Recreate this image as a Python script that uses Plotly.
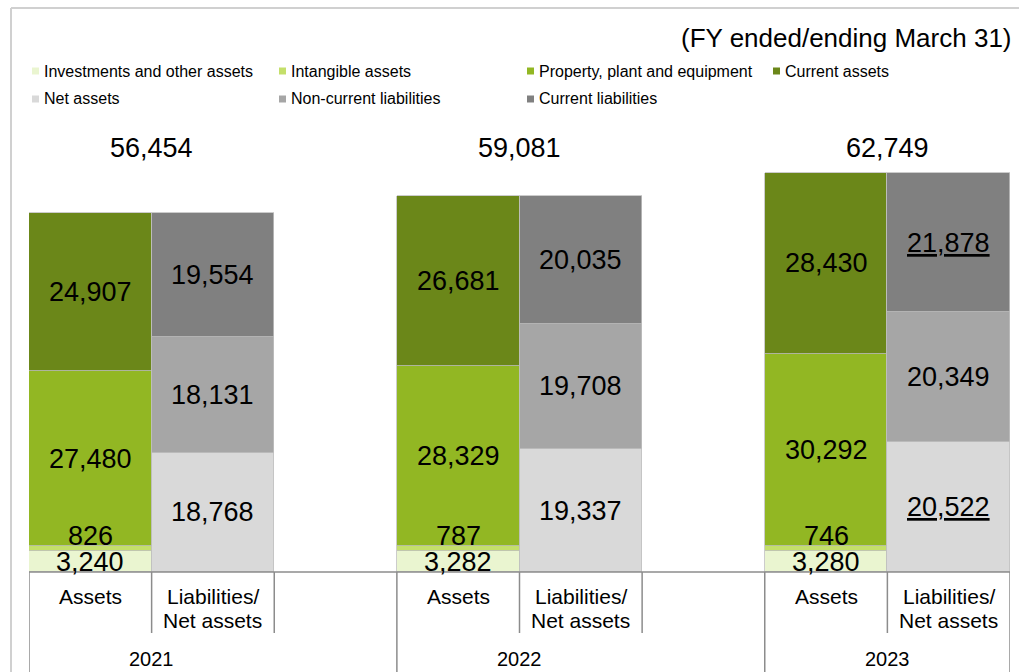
import plotly.graph_objects as go

# ---- data (JPY millions, FY ended/ending March 31) ----
years = ["2021", "2022", "2023"]
investments = [3240, 3282, 3280]
intangible = [826, 787, 746]
ppe = [27480, 28329, 30292]
current_assets = [24907, 26681, 28430]
net_assets = [18768, 19337, 20522]
noncurrent_liab = [18131, 19708, 20349]
current_liab = [19554, 20035, 21878]
totals = [56454, 59081, 62749]
underlined = {("Net assets", "2023"), ("Current liabilities", "2023")}

slot_labels = [["Assets"], ["Liabilities/", "Net assets"]]

asset_series = [
    ("Investments and other assets", investments, "#EAF5D0"),
    ("Intangible assets", intangible, "#C4DF6A"),
    ("Property, plant and equipment", ppe, "#92B723"),
    ("Current assets", current_assets, "#6B8719"),
]
liab_series = [
    ("Net assets", net_assets, "#D9D9D9"),
    ("Non-current liabilities", noncurrent_liab, "#A6A6A6"),
    ("Current liabilities", current_liab, "#808080"),
]

FONT = "Liberation Sans, Arial, sans-serif"
W, H = 1019, 672
L, R, T, B = 29, 9, 100, 100
PW, PH = W - L - R, H - T - B


def px(x):
    return (x - L) / PW


def py(y):
    return (H - B - y) / PH


x_assets = [3 * i + 0.5 for i in range(len(years))]
x_liab = [3 * i + 1.5 for i in range(len(years))]

fig = go.Figure()
annotations = []


def add_stack(series, xs):
    base = [0] * len(years)
    for name, vals, color in series:
        fig.add_trace(go.Bar(
            x=xs, y=vals, width=1, name=name,
            marker=dict(color=color, line=dict(color="#BFBFBF", width=0.8)),
            showlegend=False,
        ))
        for i, v in enumerate(vals):
            txt = f"{v:,}"
            if (name, years[i]) in underlined:
                txt = f"<u>{txt}</u>"
            shift = 13 if name == "Intangible assets" else 0
            annotations.append(dict(
                x=xs[i], y=base[i] + v / 2, yshift=shift, yanchor="middle",
                text=txt, showarrow=False,
                font=dict(size=27, color="black", family=FONT),
            ))
            base[i] += v


add_stack(asset_series, x_assets)
add_stack(liab_series, x_liab)

# totals above each pair
for i, t in enumerate(totals):
    annotations.append(dict(
        x=3 * i + 1, y=py(148), yref="paper", yanchor="middle",
        text=f"{t:,}", showarrow=False,
        font=dict(size=27, color="black", family=FONT),
    ))

# category table labels
for i, yr in enumerate(years):
    for j, lines in enumerate(slot_labels):
        for k, line in enumerate(lines):
            annotations.append(dict(
                x=3 * i + 0.5 + j, y=py(596 + 24 * k), yref="paper", yanchor="middle",
                text=line, showarrow=False,
                font=dict(size=21, color="black", family=FONT),
            ))
    annotations.append(dict(
        x=3 * i + 1, y=py(659), yref="paper", yanchor="middle",
        text=yr, showarrow=False,
        font=dict(size=20, color="black", family=FONT),
    ))

# heading
annotations.append(dict(
    x=px(1014), y=py(38), xref="paper", yref="paper",
    xanchor="right", yanchor="middle",
    text="(FY ended/ending March 31)", showarrow=False,
    font=dict(size=26, color="black", family=FONT),
))

# custom legend
legend_pos = [(32, 71), (279, 71), (527, 71), (773, 71), (32, 99), (279, 99), (527, 99)]
shapes = []
for (name, _, color), (lx, ly) in zip(asset_series + liab_series, legend_pos):
    shapes.append(dict(type="rect", xref="paper", yref="paper",
                       x0=px(lx), x1=px(lx + 7), y0=py(ly - 3.5), y1=py(ly + 3.5),
                       fillcolor=color, line=dict(width=0)))
    annotations.append(dict(
        x=px(lx + 10), y=py(ly), xref="paper", yref="paper",
        xanchor="left", yanchor="middle",
        text=name, showarrow=False, font=dict(size=16, color="black", family=FONT),
    ))

# table lines
grid = "#8C8C8C"
shapes.append(dict(type="line", xref="x", yref="paper", x0=0, x1=8, y0=0, y1=0,
                   line=dict(color=grid, width=1.5)))
for xv in [0, 3, 6, 8]:
    shapes.append(dict(type="line", xref="x", yref="paper", x0=xv, x1=xv,
                       y0=0, y1=py(H), line=dict(color=grid, width=1.5)))
for xv in [1, 2, 4, 5, 7]:
    shapes.append(dict(type="line", xref="x", yref="paper", x0=xv, x1=xv,
                       y0=0, y1=py(633), line=dict(color=grid, width=1.5)))

# outer frame
shapes.append(dict(type="line", xref="paper", yref="paper", x0=px(11), x1=px(11),
                   y0=py(8), y1=py(H), line=dict(color="#D0D0D0", width=2)))
shapes.append(dict(type="line", xref="paper", yref="paper", x0=px(11), x1=px(W),
                   y0=py(8), y1=py(8), line=dict(color="#D0D0D0", width=2)))

fig.update_layout(
    width=W, height=H,
    barmode="stack", bargap=0,
    margin=dict(l=L, r=R, t=T, b=B),
    paper_bgcolor="white", plot_bgcolor="white",
    xaxis=dict(range=[0, 8], showticklabels=False, showgrid=False, zeroline=False),
    yaxis=dict(range=[0, PH * 157.26], visible=False),
    annotations=annotations,
    shapes=shapes,
    font=dict(family=FONT),
)

fig.write_html("out.html", config={"displayModeBar": False},
               post_script="document.body.style.margin='0';")
